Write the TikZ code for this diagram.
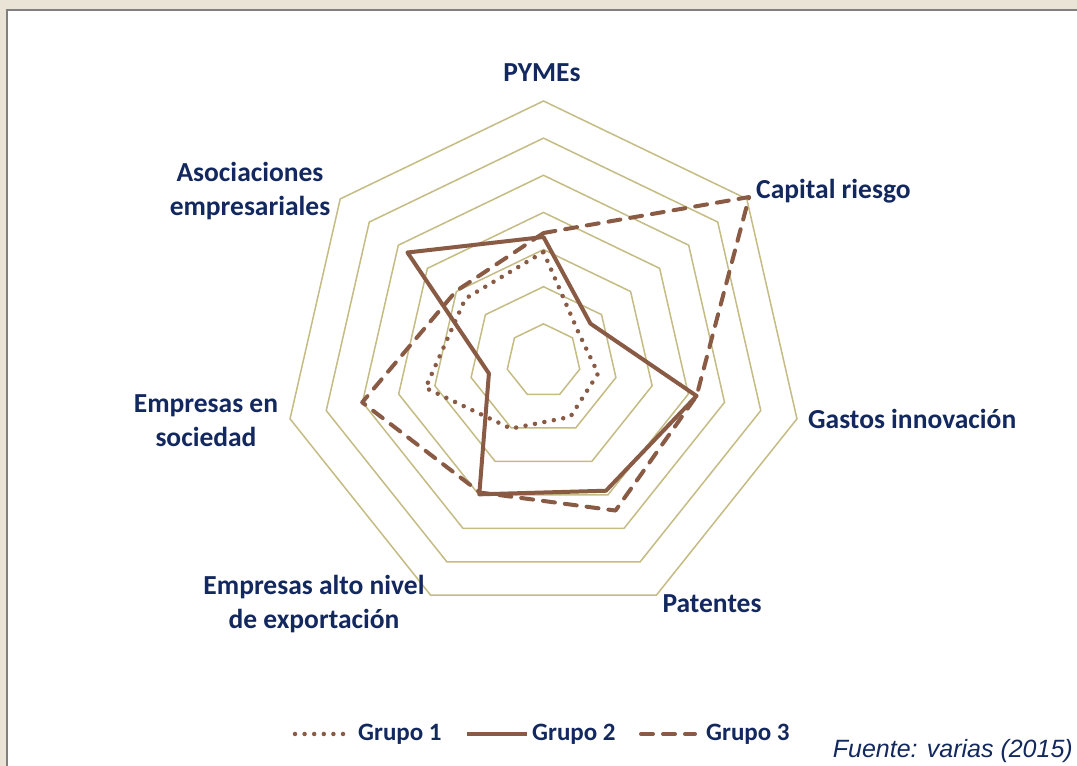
\documentclass[tikz,border=0pt]{standalone}
\usepackage{fontspec}
\setmainfont{Carlito}
\newfontfamily\arialfont{Liberation Sans}
\usetikzlibrary{calc}
\definecolor{bgbeige}{RGB}{234,228,214}
\definecolor{framegray}{RGB}{128,128,128}
\definecolor{gridc}{RGB}{196,188,132}
\definecolor{serc}{RGB}{137,90,68}
\definecolor{navy}{RGB}{18,40,94}
\tikzset{
  gridline/.style={draw=gridc, line width=1.5pt, line join=miter},
  ser/.style={draw=serc, line width=4pt, line join=round},
  g1/.style={ser, line width=4.5pt, line cap=round, dash pattern=on 0pt off 9.6pt},
  g2/.style={ser},
  g3/.style={ser, line cap=round, dash pattern=on 12pt off 10pt},
  lab/.style={text=navy, font=\fontsize{27.5}{34}\selectfont\bfseries, inner sep=0pt, align=center},
  leg/.style={text=navy, font=\fontsize{25}{28}\selectfont\bfseries, inner sep=0pt, anchor=west},
}
\begin{document}
\begin{tikzpicture}[x=1pt,y=1pt]
\useasboundingbox (0,0) rectangle (1077,766);
\fill[bgbeige] (0,0) rectangle (1077,766);
\fill[white] (7,0) rectangle (1077,756);
\draw[framegray, line width=2pt] (7,0) -- (7,756) -- (1077,756);
\begin{scope}[shift={(543.5,405)}]
  \foreach \r in {37.14,74.29,111.43,148.57,185.71,222.86,260} {
    \draw[gridline] (90:\r) -- (38.571:\r) -- (-12.857:\r) -- (-64.286:\r) -- (-115.714:\r) -- (-167.143:\r) -- (141.429:\r) -- cycle;
  }
  \draw[g1] (90:109) -- (38.571:45) -- (-12.857:56) -- (-64.286:62) -- (-115.714:75) -- (-167.143:121) -- (141.429:100) -- cycle;
  \draw[g2] (90:124) -- (38.571:60) -- (-12.857:157) -- (-64.286:144) -- (-115.714:148) -- (-167.143:56) -- (141.429:174) -- cycle;
  \draw[g3] (90:128) -- (38.571:263) -- (-12.857:157) -- (-64.286:166) -- (-115.714:146) -- (-167.143:186) -- (141.429:112) -- cycle;
\end{scope}
\node[lab] (pymes) at (542,693) {PYMEs};
\node[lab, anchor=west] (capital) at (756,575) {Capital riesgo};
\node[lab, anchor=west] (gastos) at (808,347) {Gastos innovación};
\node[lab] (patentes) at (712,162) {Patentes};
\node[lab] (export) at (314,162) {Empresas alto nivel\\de exportación};
\node[lab] (sociedad) at (206,345) {Empresas en\\sociedad};
\node[lab] (asoc) at (250,575) {Asociaciones\\empresariales};
\draw[g1] (295,32) -- (349,32);
\node[leg] (l1) at (358,32) {Grupo 1};
\draw[g2] (467,32) -- (527,32);
\node[leg] (l2) at (532,32) {Grupo 2};
\draw[g3] (641,32) -- (695,32);
\node[leg] (l3) at (706,32) {Grupo 3};
\node[text=navy, font=\fontsize{25}{30}\selectfont\arialfont\itshape, inner sep=0pt, anchor=east] (fuente) at (1073,15) {Fuente: varias (2015)};
\end{tikzpicture}
\end{document}
